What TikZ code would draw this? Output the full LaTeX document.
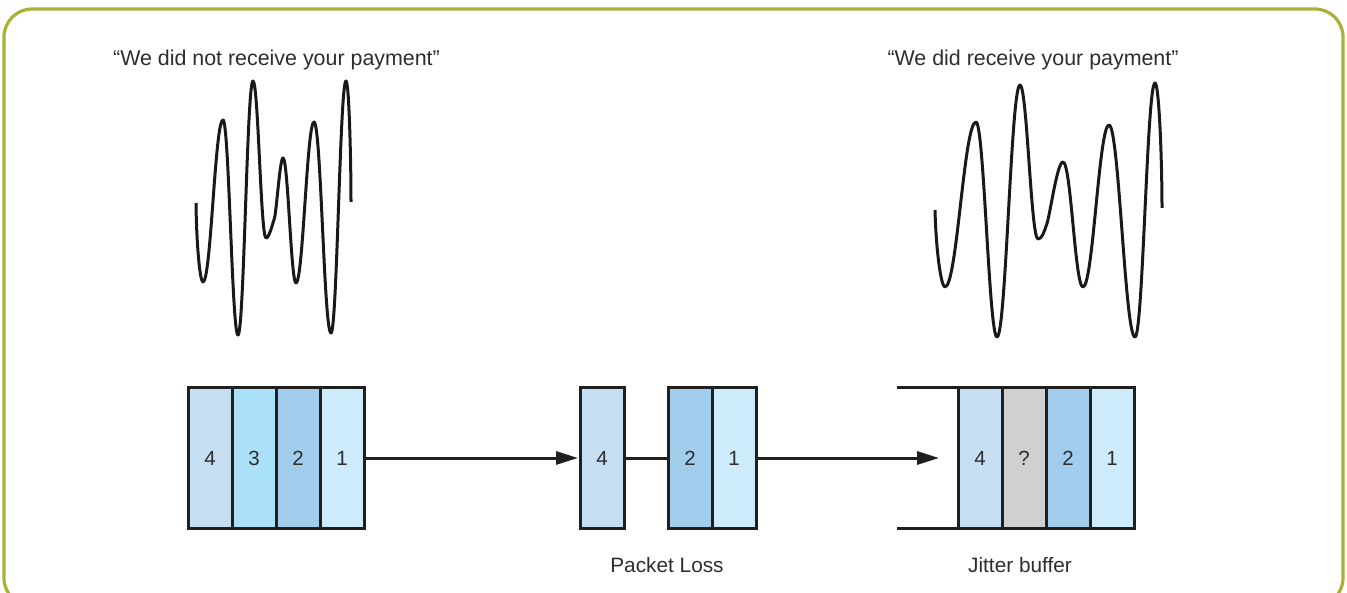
\documentclass[tikz,border=0pt]{standalone}
\usepackage{fontspec}
\setmainfont{Liberation Sans}
\usetikzlibrary{arrows.meta}
\definecolor{frameolive}{RGB}{169,178,54}
\definecolor{inkgray}{RGB}{45,45,45}
\definecolor{pktfour}{RGB}{198,222,242}
\definecolor{pktthree}{RGB}{170,225,249}
\definecolor{pkttwo}{RGB}{163,205,236}
\definecolor{pktone}{RGB}{205,235,251}
\definecolor{pktlost}{RGB}{208,208,210}
\tikzset{
  packet/.style={draw=black!88, line width=3pt, minimum width=44pt,
    minimum height=140pt, inner sep=0pt, outer sep=0pt, text=inkgray,
    font=\fontsize{20.5}{24}\selectfont},
  caption/.style={text=inkgray, inner sep=0pt, font=\fontsize{20.8}{24}\selectfont},
  quote/.style={text=inkgray, inner sep=0pt, font=\fontsize{21.4}{25}\selectfont},
  flow/.style={draw=black!88, line width=3pt},
  flowarrow/.style={flow, -{Triangle[length=22pt,width=13pt]}},
  wave/.style={draw=black!90, line width=3pt, line join=round},
}
\begin{document}
\begin{tikzpicture}[x=1pt,y=-1pt]
\useasboundingbox (0,0) rectangle (1347,593);
% outer frame
\draw[frameolive, line width=3.2pt, rounded corners=28pt] (4,9) rectangle (1343,606);

% quotes
\node[quote] (qleft) at (276.5,60) {“We did not receive your payment”};
\node[quote] (qright) at (1033,60) {“We did receive your payment”};

% sent waveform
\draw[wave] (196,203) .. controls (196.5,245) and (200,282) .. (203,282)
  .. controls (211,282) and (215,120) .. (223,120)
  .. controls (229,120) and (232,335) .. (238,335)
  .. controls (244,335) and (247,81) .. (253,81)
  .. controls (258.2,81) and (260.8,238) .. (266,238)
  .. controls (269,238) and (272,226) .. (274.5,218)
  .. controls (276.5,211) and (280,158) .. (283,158)
  .. controls (288,158) and (291,283) .. (296,283)
  .. controls (303,283) and (307,122) .. (314,122)
  .. controls (321,122) and (324,333) .. (331,333)
  .. controls (337,333) and (340,81) .. (346,81)
  .. controls (349,81) and (351,160) .. (351,202);

% received waveform
\draw[wave] (935,210) .. controls (936,250) and (941,287) .. (945,287)
  .. controls (957,287) and (964,122) .. (976,122)
  .. controls (984,122) and (989,337) .. (997,337)
  .. controls (1006,337) and (1011,85) .. (1020,85)
  .. controls (1027,85) and (1031,239) .. (1038,239)
  .. controls (1042,239) and (1044,232) .. (1046.5,225)
  .. controls (1050,216) and (1057,162) .. (1063,162)
  .. controls (1071,162) and (1075,287) .. (1083,287)
  .. controls (1093,287) and (1099,125) .. (1109,125)
  .. controls (1119,125) and (1125,337) .. (1135,337)
  .. controls (1143,337) and (1147,83) .. (1155,83)
  .. controls (1159,83) and (1162,160) .. (1162,208);

% sent packets
\node[packet, fill=pktfour]  (s4) at (210,458) {4};
\node[packet, fill=pktthree] (s3) at (254,458) {3};
\node[packet, fill=pkttwo]   (s2) at (298,458) {2};
\node[packet, fill=pktone]   (s1) at (342,458) {1};

% packets in transit, one lost
\node[packet, fill=pktfour] (t4) at (602,458) {4};
\node[packet, fill=pkttwo]  (t2) at (690,458) {2};
\node[packet, fill=pktone]  (t1) at (734,458) {1};

% jitter buffer
\node[packet, fill=pktfour] (j4) at (980,458) {4};
\node[packet, fill=pktlost] (jq) at (1024,458) {?};
\node[packet, fill=pkttwo]  (j2) at (1068,458) {2};
\node[packet, fill=pktone]  (j1) at (1112,458) {1};
\coordinate (jedge) at (897,458);
\coordinate (jin) at (939,458);
\draw[flow] (j4.north west) -- (j4.north west -| jedge);
\draw[flow] (j4.south west) -- (j4.south west -| jedge);

% connectors
\draw[flowarrow, shorten >=2pt] (s1.east) -- (t4.west);
\draw[flow] (t4.east) -- (t2.west);
\draw[flowarrow] (t1.east) -- (jin);

% captions
\node[caption] (lossl) at (667,565) {Packet Loss};
\node[caption] (jitl) at (1020,565) {Jitter buffer};
\end{tikzpicture}
\end{document}
